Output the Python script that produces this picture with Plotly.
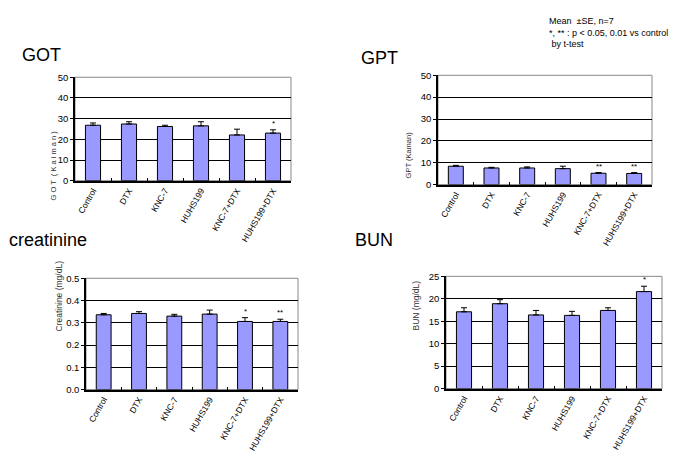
import plotly.graph_objects as go

categories = ["Control", "DTX", "KNC-7", "HUHS199", "KNC-7+DTX", "HUHS199+DTX"]

got_mean = [26.8, 27.4, 26.2, 26.5, 22.1, 23.0]
got_se = [1.1, 1.1, 0.6, 2.0, 2.8, 1.6]
got_sig = ["", "", "", "", "", "*"]

gpt_mean = [8.4, 7.6, 7.6, 7.3, 5.2, 5.1]
gpt_se = [0.4, 0.3, 0.5, 1.1, 0.3, 0.4]
gpt_sig = ["", "", "", "", "**", "**"]

cre_mean = [0.336, 0.342, 0.330, 0.339, 0.306, 0.306]
cre_se = [0.006, 0.008, 0.008, 0.018, 0.017, 0.010]
cre_sig = ["", "", "", "", "*", "**"]

bun_mean = [17.1, 18.9, 16.4, 16.3, 17.4, 21.6]
bun_se = [0.9, 0.9, 1.0, 0.9, 0.6, 1.2]
bun_sig = ["", "", "", "", "", "*"]

W, H = 681, 457

def px_dom_x(a, b):
    return [a / W, b / W]

def px_dom_y(top, bot):
    return [1 - bot / H, 1 - top / H]

panels = [
    dict(mean=got_mean, se=got_se, sig=got_sig, xd=px_dom_x(75, 291), yd=px_dom_y(73, 179),
         rng=[0, 50], dt=10, fmt="", ytitle="G O T  ( K a i m a n )", ytx=47, ytsize=7.5,
         title="GOT", tx=20, ty=50),
    dict(mean=gpt_mean, se=gpt_se, sig=gpt_sig, xd=px_dom_x(438, 652), yd=px_dom_y(71, 183),
         rng=[0, 50], dt=10, fmt="", ytitle="GPT (Kaman)", ytx=408, ytsize=7.5,
         title="GPT", tx=359, ty=53),
    dict(mean=cre_mean, se=cre_se, sig=cre_sig, xd=px_dom_x(86, 298), yd=px_dom_y(279, 393),
         rng=[0, 0.5], dt=0.1, fmt=".1f", ytitle="Creatinine (mg/dL)", ytx=52, ytsize=8.5,
         title="creatinine", tx=7, ty=240),
    dict(mean=bun_mean, se=bun_se, sig=bun_sig, xd=px_dom_x(446, 662), yd=px_dom_y(277, 392),
         rng=[0, 25], dt=5, fmt="", ytitle="BUN (mg/dL)", ytx=416, ytsize=8.5,
         title="BUN", tx=353, ty=240),
]

fig = go.Figure()
annotations = []
shapes = []
font = "Arial, Liberation Sans, sans-serif"

for i, p in enumerate(panels):
    n = "" if i == 0 else str(i + 1)
    xa, ya = "x" + n, "y" + n
    fig.add_trace(go.Bar(
        x=categories, y=p["mean"], xaxis=xa, yaxis=ya, width=0.42,
        marker=dict(color="#9999FF", line=dict(color="black", width=1)),
        error_y=dict(type="data", array=p["se"], arrayminus=[0] * 6, symmetric=False,
                     color="black", thickness=1, width=3),
        showlegend=False, hoverinfo="skip",
    ))
    fig.layout["xaxis" + n] = dict(
        domain=p["xd"], anchor=ya, type="category", showline=True, linecolor="black",
        linewidth=1.5, ticks="inside", ticklen=3, tickcolor="black", tickson="boundaries",
        tickangle=-60, tickfont=dict(size=8.5, family=font, color="black"), showgrid=False,
        range=[-0.5, 5.5], fixedrange=True,
    )
    fig.layout["yaxis" + n] = dict(
        domain=p["yd"], anchor=xa, range=p["rng"], dtick=p["dt"], tick0=0,
        tickformat=p["fmt"], showline=True, linecolor="black", linewidth=1.5,
        ticks="outside", ticklen=3, tickcolor="black", showgrid=True, gridcolor="black",
        gridwidth=1, zeroline=False, tickfont=dict(size=9.5, family=font, color="black"),
        fixedrange=True,
    )
    shapes.append(dict(type="rect", xref=xa + " domain", yref=ya + " domain",
                       x0=0, x1=1, y0=0, y1=1, line=dict(color="#888888", width=1),
                       layer="below"))
    for c, m, s, sg in zip(categories, p["mean"], p["se"], p["sig"]):
        if sg:
            annotations.append(dict(x=c, y=m + s, xref=xa, yref=ya, text=sg, showarrow=False,
                                    yanchor="bottom", yshift=0,
                                    font=dict(size=8, family=font, color="black")))
    ymid = (p["yd"][0] + p["yd"][1]) / 2
    annotations.append(dict(x=p["ytx"] / W, y=ymid, xref="paper", yref="paper",
                            text=p["ytitle"], textangle=-90, showarrow=False,
                            font=dict(size=p["ytsize"], family=font, color="#333333")))
    annotations.append(dict(x=p["tx"] / W, y=1 - p["ty"] / H, xref="paper", yref="paper",
                            text=p["title"], showarrow=False, xanchor="left", yanchor="middle",
                            font=dict(size=18, family=font, color="black")))

annotations.append(dict(x=547 / W, y=1 - 8 / H, xref="paper", yref="paper", xanchor="left",
                        yanchor="top", align="left", showarrow=False,
                        text="Mean  ±SE, n=7<br>*, ** : p < 0.05, 0.01 vs control<br> by t-test",
                        font=dict(size=9, family=font, color="black")))

fig.update_layout(
    width=W, height=H, margin=dict(l=0, r=0, t=0, b=0),
    paper_bgcolor="white", plot_bgcolor="white",
    annotations=annotations, shapes=shapes, bargap=0.5,
)

fig.write_html("out.html")
